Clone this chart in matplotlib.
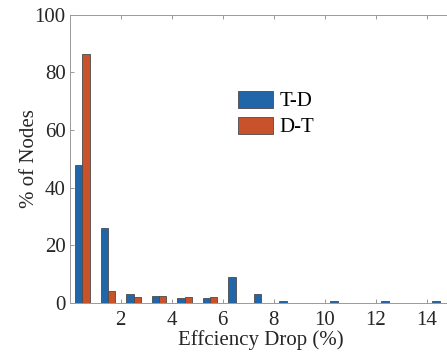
import matplotlib.pyplot as plt
import numpy as np

plt.rcParams["font.family"] = ["Liberation Serif", "DejaVu Serif"]

# bin centres of the efficiency-drop histogram (%)
bins = np.arange(0.5, 15.0, 1.0)
td = [47.7, 25.9, 3.2, 2.4, 1.6, 1.6, 8.9, 3.2, 0.7, 0.0, 0.7, 0.0, 0.7, 0.0, 0.7]
dt = [86.5, 4.1, 2.0, 2.4, 2.0, 2.0, 0.0, 0.0, 0.0, 0.0, 0.0, 0.0, 0.0, 0.0, 0.0]
xticks = [2, 4, 6, 8, 10, 12, 14]
yticks = [0, 20, 40, 60, 80, 100]

BLUE = "#2166A8"
ORANGE = "#C8522A"
EDGE = "#4a4a4a"

fig = plt.figure(figsize=(4.47, 3.52), dpi=100)
ax = fig.add_axes([0.156, 0.140, 0.856, 0.818])

w = 0.29
ax.bar(bins - w / 2, td, width=w, color=BLUE, edgecolor=EDGE, linewidth=0.6, label="T-D")
ax.bar(bins + w / 2, dt, width=w, color=ORANGE, edgecolor=EDGE, linewidth=0.6, label="D-T")

ax.set_xlim(0, 15)
ax.set_ylim(0, 100)
ax.set_xticks(xticks)
ax.set_yticks(yticks)
ax.tick_params(direction="in", length=3, width=0.6, colors="#888888",
               labelsize=15, labelcolor="#262626", top=True, right=True, pad=3)
ax.tick_params(axis="x", pad=6)
for side in ["left", "bottom", "top", "right"]:
    ax.spines[side].set_color("#9a9a9a")
    ax.spines[side].set_linewidth(0.7)

ax.set_xlabel("Effciency Drop (%)", fontsize=15, color="#262626", labelpad=0)
ax.set_ylabel("% of Nodes", fontsize=15, color="#262626", labelpad=-3)

ax.legend(loc="upper left", bbox_to_anchor=(0.418, 0.765), frameon=False,
          fontsize=15, handlelength=1.68, handleheight=0.87, handletextpad=0.3,
          labelspacing=0.25, borderaxespad=0)

fig.savefig("out.png", dpi=100)
